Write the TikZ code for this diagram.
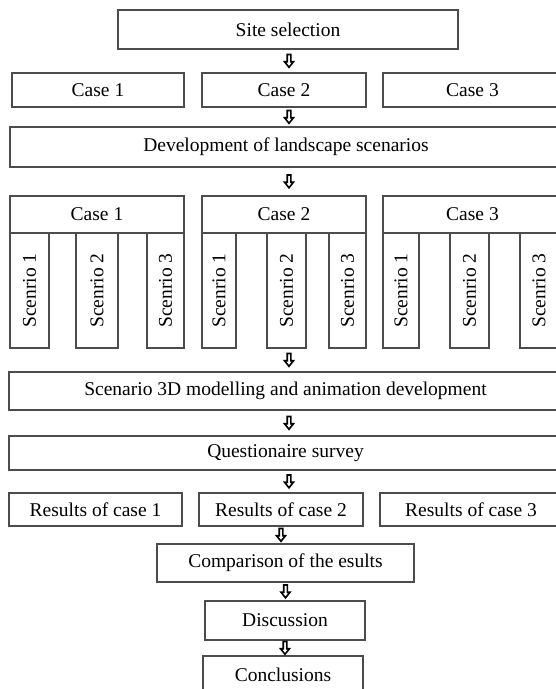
\documentclass[tikz,border=0pt]{standalone}
\usepackage{fontspec}
\setmainfont{Liberation Serif}
\usetikzlibrary{calc}
\tikzset{
	box/.style={draw=black!70, line width=1.1pt, inner sep=0pt, font=\fontsize{19.5}{22}\selectfont},
	scen/.style={box, rotate=90, minimum width=115},
	downarr/.pic={\draw[line width=1.6pt, fill=white] (-1.8,6.5) -- (1.8,6.5) -- (1.8,-0.8) -- (4.4,-0.8) -- (0,-6.3) -- (-4.4,-0.8) -- (-1.8,-0.8) -- cycle;}
}

\begin{document}
\begin{tikzpicture}[x=1pt, y=1pt]
		%%%%% START %%%%%
		\useasboundingbox (0, 0) rectangle (555, 689);
		\coordinate (axis) at (289, 0);
		
		\node[box, minimum width=340, minimum height=39] (site) at (288, 659.5) {Site selection};
		
		\node[box, minimum width=172, minimum height=34] (case1) at (98, 599) {Case 1};
		\node[box, minimum width=164, minimum height=34] (case2) at (284, 599) {Case 2};
		\node[box, minimum width=179, minimum height=34] (case3) at (472.5, 599) {Case 3};
		
		\node[box, minimum width=552, minimum height=40] (dev) at (286, 542) {Development of landscape scenarios};
		
		\node[box, minimum width=174, minimum height=37] (hdr1) at (97, 474.5) {Case 1};
		\node[box, minimum width=164, minimum height=37] (hdr2) at (284, 474.5) {Case 2};
		\node[box, minimum width=179, minimum height=37] (hdr3) at (472.5, 474.5) {Case 3};
		
		\node[scen, minimum height=39] (sc11) at (29.5, 398.5) {Scenrio 1};
		\node[scen, minimum height=42] (sc12) at (97, 398.5) {Scenrio 2};
		\node[scen, minimum height=37] (sc13) at (165.5, 398.5) {Scenrio 3};
		\node[scen, minimum height=34] (sc21) at (219, 398.5) {Scenrio 1};
		\node[scen, minimum height=39] (sc22) at (286.5, 398.5) {Scenrio 2};
		\node[scen, minimum height=37] (sc23) at (347.5, 398.5) {Scenrio 3};
		\node[scen, minimum height=36] (sc31) at (401, 398.5) {Scenrio 1};
		\node[scen, minimum height=39] (sc32) at (469.5, 398.5) {Scenrio 2};
		\node[scen, minimum height=38] (sc33) at (539, 398.5) {Scenrio 3};
		
		\node[box, minimum width=553, minimum height=38] (model) at (285.5, 298) {Scenario 3D modelling and animation development};
		\node[box, minimum width=553, minimum height=34] (quest) at (285.5, 236) {Questionaire survey};
		
		\node[box, minimum width=173, minimum height=33] (res1) at (95.5, 179.5) {Results of case 1};
		\node[box, minimum width=164, minimum height=33] (res2) at (281, 179.5) {Results of case 2};
		\node[box, minimum width=182, minimum height=33] (res3) at (471, 179.5) {Results of case 3};
		
		\node[box, minimum width=257, minimum height=38] (comp) at (285.5, 126) {Comparison of the esults};
		\node[box, minimum width=160, minimum height=39] (disc) at (285, 68.5) {Discussion};
		\node[box, minimum width=160, minimum height=44] (concl) at (283, 11) {\raisebox{7pt}{Conclusions}};
		
		%% arrows
		\pic at ($(site.south -| axis)!0.5!(case2.north -| axis)$) {downarr};
		\pic at ($(case2.south -| axis)!0.5!(dev.north -| axis)$) {downarr};
		\pic at ($(dev.south -| axis)!0.5!(hdr2.north -| axis)$) {downarr};
		\pic at ($(sc22.west -| axis)!0.5!(model.north -| axis)$) {downarr};
		\pic at ($(model.south -| axis)!0.5!(quest.north -| axis)$) {downarr};
		\pic at ($(quest.south -| axis)!0.5!(res2.north -| axis)$) {downarr};
		\pic at ($(res2.south)!0.5!(res2.south |- comp.north)$) {downarr};
		\pic at ($(comp.south)!0.5!(comp.south |- disc.north)$) {downarr};
		\pic at ($(disc.south)!0.5!(disc.south |- concl.north)$) {downarr};
		
		%%%%% END %%%%%
	\end{tikzpicture}
\end{document}
